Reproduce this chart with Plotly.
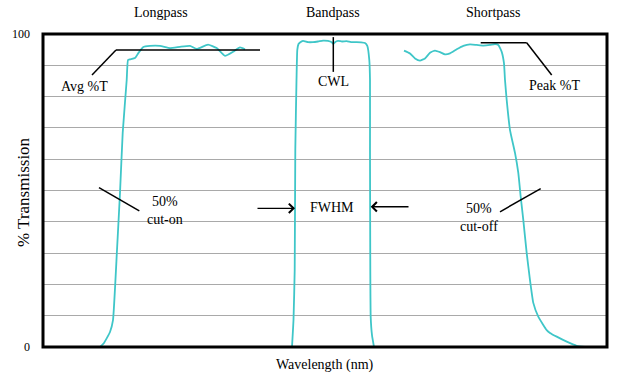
import plotly.graph_objects as go

# Wavelength axis in arbitrary units (no tick labels on the chart)
long_x = [100, 104, 110, 113, 117, 120, 122.7, 126.7, 128, 130, 135, 139, 143, 150, 160, 170, 180, 190, 196.7, 208, 216.7, 225, 233, 240, 245]
long_t = [0, 1.3, 4.8, 8.6, 31.0, 49.2, 68.4, 85.3, 91.7, 91.9, 92.3, 94.2, 95.8, 96.2, 96.2, 95.5, 95.9, 96.2, 95.2, 96.6, 95.5, 93.0, 94.3, 95.7, 95.1]

band_x = [292, 293.5, 294.7, 295.3, 296.5, 297.3, 298.5, 300, 303, 308, 313, 318, 323, 328, 331.7, 333.3, 335, 338, 342, 346.7, 351, 356.7, 361, 365, 367.3, 369.3, 370, 370, 370.3, 370.7, 372, 374]
band_t = [0, 8.6, 24.6, 62.9, 85.3, 94.9, 96.8, 97.3, 97.8, 97.4, 97.4, 97.6, 97.9, 97.8, 97.4, 96.8, 97.4, 97.8, 97.6, 97.7, 97.4, 97.4, 97.3, 97.1, 96.2, 91.7, 85.3, 62.9, 24.6, 9.6, 3.8, 0]

short_x = [404, 410, 415, 420, 425, 430, 435, 440, 445, 450, 456.7, 463.3, 470, 476.7, 483.3, 490, 495, 498.3, 501.7, 504, 505, 506.7, 510, 515, 518.3, 520.7, 523.3, 526.7, 530, 533.3, 538.3, 546.7, 550, 556.7, 566.7, 576.7, 585]
short_t = [94.7, 93.8, 92.2, 91.5, 92.2, 94.0, 94.7, 94.2, 93.5, 93.8, 95.1, 96.2, 96.7, 96.5, 96.3, 96.5, 96.8, 96.5, 94.3, 90.6, 85.3, 78.9, 69.3, 62.0, 55.6, 48.0, 40.6, 30.0, 21.4, 14.1, 9.7, 5.4, 4.5, 3.3, 1.7, 0.4, 0]

filter_names = ["Longpass", "Bandpass", "Shortpass"]
y_ticks = [0, 10, 20, 30, 40, 50, 60, 70, 80, 90, 100]
y_ticktext = ["0", "", "", "", "", "", "", "", "", "", "100"]

CYAN = "#3fc6c8"
FONT = "Liberation Serif"

fig = go.Figure()
for xs, ts, name in [(long_x, long_t, filter_names[0]), (band_x, band_t, filter_names[1]), (short_x, short_t, filter_names[2])]:
    fig.add_trace(go.Scatter(x=xs, y=ts, mode="lines", name=name,
                             line=dict(color=CYAN, width=1.8, shape="spline", smoothing=0.4),
                             showlegend=False, hoverinfo="skip"))

shapes = [
    # Avg %T
    dict(type="line", x0=116, y0=94.9, x1=260, y1=94.9),
    dict(type="line", x0=116, y0=94.9, x1=92, y1=86.9),
    # CWL
    dict(type="line", x0=333.3, y0=99.0, x1=333.3, y1=87.9),
    # Peak %T
    dict(type="line", x0=480.7, y0=97.2, x1=526.7, y1=97.2),
    dict(type="line", x0=526.7, y0=97.2, x1=551.7, y1=86.9),
    # 50% cut-on
    dict(type="line", x0=99, y0=50.9, x1=139.3, y1=43.5),
    # 50% cut-off
    dict(type="line", x0=500, y0=43.2, x1=540.7, y1=50.6),
]
for s in shapes:
    s.update(xref="x", yref="y", line=dict(color="black", width=1.5))
# frame
shapes.append(dict(type="rect", xref="paper", yref="paper", x0=0, y0=0, x1=1, y1=1,
                   line=dict(color="black", width=3)))
fig.update_layout(shapes=shapes)

tf = dict(family=FONT, size=14, color="black")
ann = [
    dict(x=84, y=83.1, text="Avg %T"),
    dict(x=333.3, y=84.7, text="CWL"),
    dict(x=554, y=83.7, text="Peak %T"),
    dict(x=165, y=43.5, text="50%<br>cut-on"),
    dict(x=332, y=44.7, text="FWHM"),
    dict(x=479, y=41.4, text="50%<br>cut-off"),
]
for a in ann:
    a.update(xref="x", yref="y", showarrow=False, font=tf)
# arrows
ann += [
    dict(x=295, y=44.3, ax=256, ay=44.3, xref="x", yref="y", axref="x", ayref="y",
         showarrow=True, arrowhead=4, arrowsize=1.3, arrowwidth=1.4, arrowcolor="black", text=""),
    dict(x=370.7, y=44.8, ax=410, ay=44.8, xref="x", yref="y", axref="x", ayref="y",
         showarrow=True, arrowhead=4, arrowsize=1.3, arrowwidth=1.4, arrowcolor="black", text=""),
]
plot_h = 380 - 34 - 33
for xv, name in zip([161, 333.3, 492.5], filter_names):
    ann.append(dict(x=xv, y=1 + (34 - 13) / plot_h, xref="x", yref="paper", yanchor="middle",
                    text=name, showarrow=False, font=tf))
fig.update_layout(annotations=ann)

fig.add_annotation(text="% Transmission", textangle=-90, xref="paper", yref="paper",
                   x=(23 - 43) / 564, y=(347 - 192) / plot_h, showarrow=False,
                   font=dict(family=FONT, size=17, color="black"),
                   xanchor="center", yanchor="middle")
fig.add_annotation(text="Wavelength (nm)", xref="paper", yref="paper",
                   x=(325 - 43) / 564, y=-(365 - 347) / plot_h, showarrow=False, font=tf,
                   xanchor="center", yanchor="middle")

fig.update_xaxes(range=[43, 607], showgrid=False, showticklabels=False, zeroline=False,
                 showline=False, ticks="")
fig.update_yaxes(range=[0, 100], tickvals=y_ticks, ticktext=y_ticktext, showgrid=True,
                 gridcolor="#a9a9a9", gridwidth=1, zeroline=False, showline=False, ticks="",
                 ticklabelstandoff=12, tickfont=dict(family=FONT, size=12, color="black"))
fig.update_layout(width=625, height=380, margin=dict(l=43, r=18, t=34, b=33, autoexpand=False),
                  paper_bgcolor="white", plot_bgcolor="white")
fig.write_html("out.html", config={"displayModeBar": False},
               post_script="document.body.style.margin='0';document.body.style.padding='0';")
